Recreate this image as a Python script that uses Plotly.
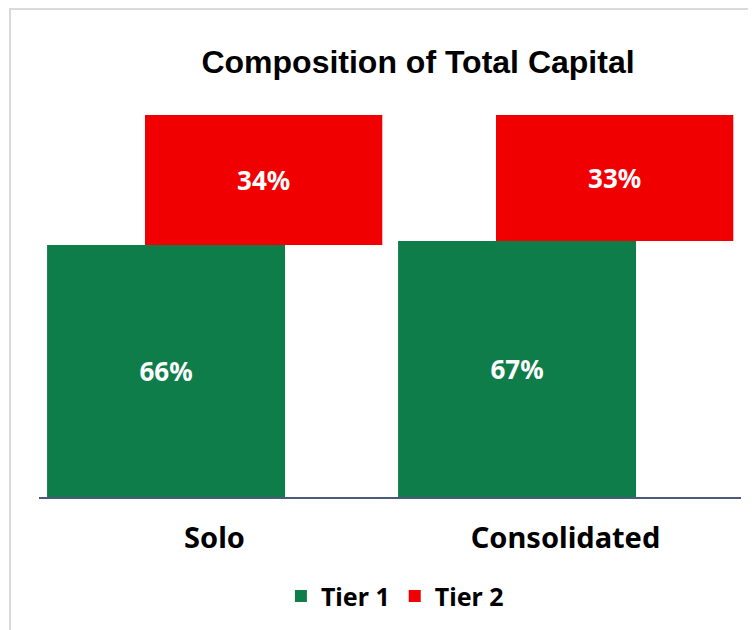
import plotly.graph_objects as go

categories = ["Solo", "Consolidated"]
tier1 = [66, 67]
tier2 = [34, 33]

title_text = "Composition of Total Capital"

label_font = dict(color="white", size=26, family="Noto Sans", weight="bold")

fig = go.Figure()

fig.add_trace(go.Bar(
    x=categories,
    y=tier1,
    name="Tier 1",
    width=0.678,
    offset=-0.477,
    marker_color="#0f7d4a",
    marker_line_width=0,
    text=[f"{v}%" for v in tier1],
    textposition="inside",
    insidetextanchor="middle",
    textfont=label_font,
))

fig.add_trace(go.Bar(
    x=categories,
    y=tier2,
    base=tier1,
    name="Tier 2",
    width=0.676,
    offset=-0.198,
    marker_color="#f00000",
    marker_line_width=0,
    text=[f"{v}%" for v in tier2],
    textposition="inside",
    insidetextanchor="middle",
    textfont=label_font,
))

# light frame around the chart, like the Excel chart area border
fig.add_shape(
    type="rect", xref="paper", yref="paper",
    x0=-0.0413, x1=1.2, y0=-0.6, y1=1.2775,
    line=dict(color="#d9d9d9", width=2),
    fillcolor="rgba(0,0,0,0)",
    layer="below",
)

# the page body adds an 8px offset, so the figure is laid out 8px up/left
fig.update_layout(
    width=756,
    height=630,
    paper_bgcolor="white",
    plot_bgcolor="white",
    barmode="overlay",
    margin=dict(l=31, r=23, t=107, b=141, autoexpand=False),
    title=dict(
        text=f"<b>{title_text}</b>",
        x=410 / 756,
        xanchor="center",
        y=1 - 54 / 630,
        yanchor="middle",
        font=dict(family="Liberation Sans", size=32, color="black"),
    ),
    xaxis=dict(
        showline=True,
        linecolor="#4a5a78",
        linewidth=2,
        showgrid=False,
        ticks="",
        ticklabelstandoff=14,
        tickfont=dict(family="Noto Sans", size=29, color="black", weight="bold"),
    ),
    yaxis=dict(
        range=[0, 100],
        visible=False,
        showgrid=False,
    ),
    legend=dict(
        orientation="h",
        x=0.507,
        xanchor="center",
        y=-0.26,
        yanchor="middle",
        font=dict(family="Noto Sans", size=25, color="black", weight="bold"),
        itemsizing="constant",
    ),
    showlegend=True,
)

fig.write_html("out.html")
